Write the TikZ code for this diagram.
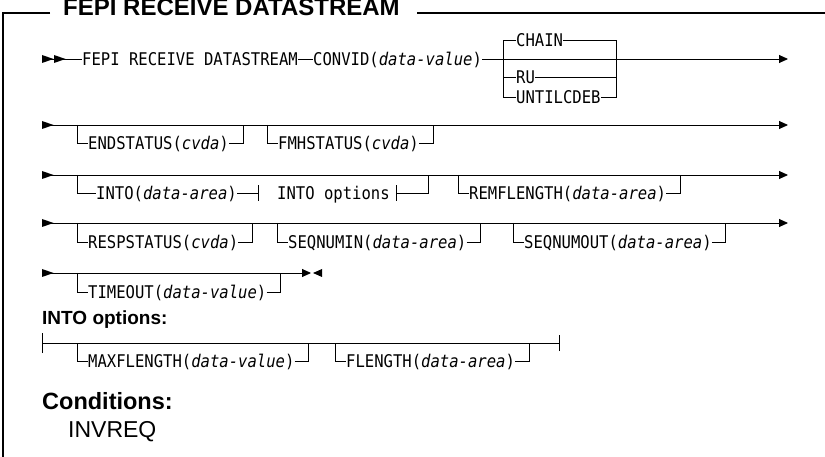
\documentclass[tikz,border=0pt]{standalone}
\usepackage{fontspec}
\usepackage{tikz}
\usetikzlibrary{arrows.meta,positioning}

\newfontfamily\railfont[FakeStretch=0.89]{DejaVu Sans Mono}
\newfontfamily\headfont{Liberation Sans}

\tikzset{
  kw/.style={font=\railfont\fontsize{17.5}{20}\selectfont, inner sep=0pt,
    text height=12.8pt, text depth=0pt, anchor=west},
  rail/.style={line width=0.9pt},
  railend/.style={rail, -{Triangle[length=9pt,width=8pt]}},
  head/.style={inner sep=0pt, anchor=base west},
  pics/start/.style={code={\fill (0,-4) -- (11.5,0) -- (0,4) -- cycle;}},
  pics/stop/.style={code={\fill (0,-4) -- (-9,0) -- (0,4) -- cycle;}},
}

% optional keyword hanging below a rail
\newcommand{\railopt}[5]{%
  \coordinate (#1-l) at (#3,#4);
  \node[kw, right=11pt of #1-l] (#1) {#5};
  \path (#1.east) ++(14,0) coordinate (#1-r);
  \draw[rail] (#1-l |- #2) |- (#1.west);
  \draw[rail] (#1.east) -| (#1-r |- #2);
}

\begin{document}
\begin{tikzpicture}[x=1pt,y=-1pt]
  \useasboundingbox (0,0) rectangle (825,457);
  % Frame and title
  \node[head, font=\headfont\bfseries\fontsize{24}{28}\selectfont] (title) at (63,16) {FEPI RECEIVE DATASTREAM};
  \draw[line width=1.5pt] (50,13) -- (3,13) -- (3,457);
  \draw[line width=1.5pt] (417,13) -- (825,13);

  % Row 1
  \coordinate (row1) at (42,59);
  \coordinate (end1) at (788,59);
  \pic at (row1) {start};
  \pic at (54,59) {start};
  \node[kw] (fepi) at (82,59) {FEPI RECEIVE DATASTREAM};
  \node[kw] (convid) at (313,59) {CONVID(\textit{data-value})};
  \draw[rail] (row1) -- (fepi);
  \draw[rail] (fepi) -- (convid);
  \draw[railend] (convid) -- (end1);
  % choice box
  \coordinate (bxl) at (503,59);
  \coordinate (bxr) at (616,59);
  \node[kw] (chain) at (516,40) {CHAIN};
  \node[kw] (ru) at (516,77) {RU};
  \node[kw] (until) at (516,97) {UNTILCDEB};
  \draw[rail] (chain.west) -| (bxl |- until) -- (until.west);
  \draw[rail] (chain.east) -| (bxr |- until) -- (until.east);
  \draw[rail] (bxl |- ru) -- (ru.west);
  \draw[rail] (ru.east) -- (bxr |- ru);

  % Rows 2 to 4
  \foreach \n/\y in {2/125,3/175,4/223}{
    \coordinate (row\n) at (42,\y);
    \coordinate (end\n) at (788,\y);
    \pic at (row\n) {start};
    \draw[railend] (row\n) -- (end\n);
  }
  \railopt{endst}{row2}{77}{143}{ENDSTATUS(\textit{cvda})}
  \railopt{fmhst}{row2}{267}{143}{FMHSTATUS(\textit{cvda})}

  \node[kw] (into) at (96,193) {INTO(\textit{data-area})};
  \coordinate (intol) at (77,193);
  \draw[rail] (intol |- row3) |- (into.west);
  \coordinate (tka) at (258,193);
  \coordinate (tkb) at (396,193);
  \coordinate (intor) at (428,193);
  \node[kw] (intoref) at (277,193) {INTO options};
  \draw[rail] (into) -- (tka);
  \draw[rail] ([yshift=-8pt]tka) -- ([yshift=8pt]tka);
  \draw[rail] ([yshift=-8pt]tkb) -- ([yshift=8pt]tkb);
  \draw[rail] (tkb) -| (intor |- row3);
  \railopt{remfl}{row3}{458}{193}{REMFLENGTH(\textit{data-area})}

  \railopt{respst}{row4}{77}{242}{RESPSTATUS(\textit{cvda})}
  \railopt{seqin}{row4}{277}{242}{SEQNUMIN(\textit{data-area})}
  \railopt{seqout}{row4}{513}{242}{SEQNUMOUT(\textit{data-area})}

  % Row 5
  \coordinate (row5) at (42,273);
  \coordinate (end5) at (311,273);
  \pic at (row5) {start};
  \draw[railend] (row5) -- (end5);
  \pic at (322,273) {stop};
  \railopt{timeout}{row5}{77}{292}{TIMEOUT(\textit{data-value})}

  % INTO options fragment
  \node[head, font=\headfont\bfseries\fontsize{19}{22}\selectfont] (optlbl) at (42,324) {INTO options:};
  \coordinate (opts) at (42,343);
  \coordinate (opte) at (559,343);
  \draw[rail] (opts) -- (opte);
  \draw[rail] ([yshift=-10pt]opts) -- ([yshift=10pt]opts);
  \draw[rail] ([yshift=-8pt]opte) -- ([yshift=8pt]opte);
  \railopt{maxfl}{opts}{77}{361}{MAXFLENGTH(\textit{data-value})}
  \railopt{flen}{opts}{335}{361}{FLENGTH(\textit{data-area})}

  % Conditions
  \node[head, font=\headfont\bfseries\fontsize{23.5}{28}\selectfont] (cond) at (42,409) {Conditions:};
  \node[head, font=\headfont\fontsize{23}{28}\selectfont] (invreq) at (68,437) {INVREQ};
\end{tikzpicture}
\end{document}
